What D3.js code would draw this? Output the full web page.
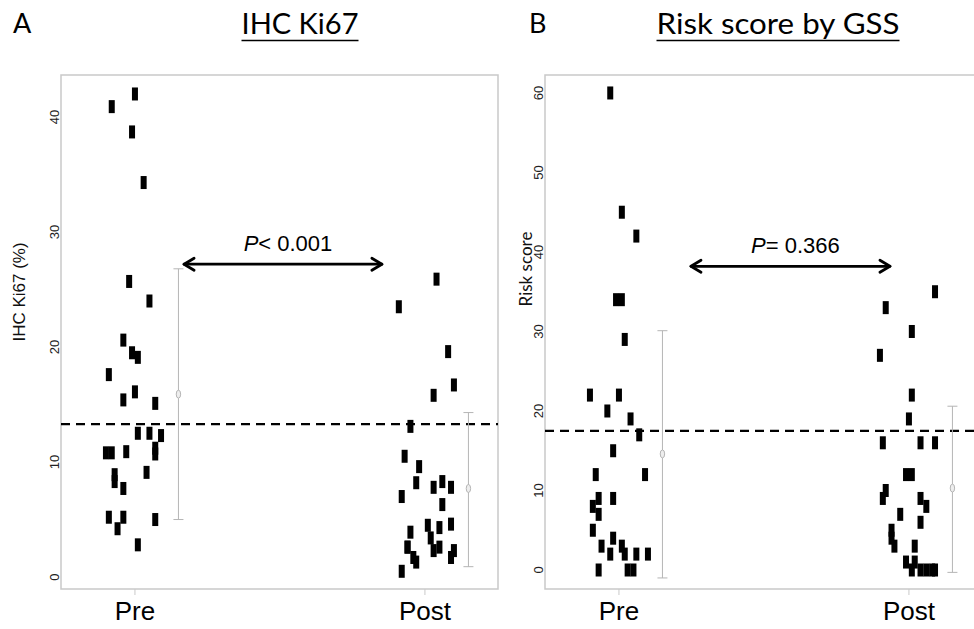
<!DOCTYPE html>
<html><head><meta charset="utf-8">
<script src="https://cdn.jsdelivr.net/npm/d3@7"></script>
<style>body{margin:0;background:#fff}</style>
</head><body>
<svg id="chart" width="974" height="629"></svg>
<script>
const categories = ["Pre", "Post"];

// Panel A: IHC Ki67 (%)
const ki67PreValues = [42.0, 40.9, 38.7, 34.3, 25.7, 24.0, 20.6, 19.5, 19.1, 17.6, 16.1, 15.4, 15.1, 12.5, 12.5, 12.3, 10.8, 10.8, 10.9, 11.2, 10.7, 9.1, 8.9, 8.3, 7.7, 5.2, 5.2, 5.0, 4.2, 2.8];
const ki67PreJitter = [0.00, -0.08, -0.01, 0.03, -0.02, 0.05, -0.04, -0.01, 0.01, -0.09, 0.00, -0.04, 0.07, 0.01, 0.05, 0.09, -0.10, -0.08, -0.03, 0.07, 0.07, 0.04, -0.07, -0.07, -0.04, -0.09, -0.04, 0.07, -0.06, 0.01];
const ki67PostValues = [25.9, 23.5, 19.6, 16.7, 15.8, 13.1, 10.5, 9.6, 8.2, 7.8, 8.3, 7.8, 7.0, 6.3, 4.5, 3.9, 4.6, 4.3, 3.4, 2.6, 2.6, 2.6, 2.3, 2.3, 1.7, 1.7, 1.3, 0.5];
const ki67PostJitter = [0.04, -0.09, 0.08, 0.10, 0.03, -0.05, -0.07, -0.02, -0.03, 0.03, 0.06, 0.09, -0.08, 0.06, 0.01, -0.05, 0.09, 0.05, 0.02, -0.06, -0.06, 0.05, 0.03, 0.10, 0.09, -0.04, -0.03, -0.08];
const ki67Mean = [15.9, 7.7];
const ki67Lower = [5.0, 0.9];
const ki67Upper = [26.8, 14.3];
const ki67Cutoff = 13.3;
const ki67Ticks = [0, 10, 20, 30, 40];
const ki67PLabel = "< 0.001";

// Panel B: Risk score by GSS
const riskPreValues = [60, 45, 42, 34, 34, 29, 22, 22, 20, 19, 17, 15, 12, 12, 9, 9, 8, 7, 5, 4, 3, 3, 2, 2, 2, 2, 0, 0, 0];
const riskPreJitter = [-0.03, 0.01, 0.06, -0.01, 0.01, 0.02, -0.10, 0.00, -0.04, 0.04, 0.07, -0.02, -0.08, 0.09, -0.07, -0.02, -0.09, -0.07, -0.09, -0.02, -0.06, 0.01, -0.03, 0.02, 0.06, 0.10, -0.07, 0.03, 0.05];
const riskPostValues = [35, 33, 30, 27, 22, 19, 16, 16, 16, 12, 12, 10, 9, 9, 8, 7, 6, 5, 4, 3, 3, 1, 1, 0, 0, 0, 0, 0];
const riskPostJitter = [0.09, -0.08, 0.01, -0.10, 0.01, 0.00, -0.09, 0.04, 0.09, -0.01, 0.01, -0.08, -0.09, 0.04, 0.06, -0.03, 0.04, -0.06, -0.06, -0.05, 0.02, -0.01, 0.02, 0.01, 0.04, 0.06, 0.08, 0.09];
const riskMean = [14.6, 10.3];
const riskLower = [-1.0, -0.3];
const riskUpper = [30.1, 20.6];
const riskCutoff = 17.5;
const riskTicks = [0, 10, 20, 30, 40, 50, 60];
const riskPLabel = "= 0.366";

const svg = d3.select("#chart");

function drawPanel(cfg) {
  const g = svg.append("g");
  const x = d3.scaleLinear().domain([-0.255, 1.252]).range([cfg.left, cfg.left + 437]);
  const y = d3.scaleLinear().domain(cfg.yDomain).range([589, 75]);

  // Box
  g.append("rect").attr("x", cfg.left).attr("y", 75)
    .attr("width", 437).attr("height", 514)
    .attr("fill", "none").attr("stroke", "#c9c9c9").attr("stroke-width", 1.5);

  // X ticks and labels
  categories.forEach((c, i) => {
    g.append("line").attr("x1", x(i)).attr("x2", x(i)).attr("y1", 589).attr("y2", 595)
      .attr("stroke", "#c9c9c9").attr("stroke-width", 1);
    g.append("text").attr("x", x(i)).attr("y", 620).attr("text-anchor", "middle")
      .attr("font-family", "Liberation Sans, Arial, sans-serif").attr("font-size", 26)
      .attr("fill", "#000").text(c);
  });

  // Y tick labels (rotated)
  cfg.ticks.forEach(t => {
    g.append("text")
      .attr("transform", `translate(${cfg.left - 2},${y(t)}) rotate(-90)`)
      .attr("text-anchor", "middle")
      .attr("font-family", "Liberation Sans, Arial, sans-serif").attr("font-size", 13)
      .attr("fill", "#222").text(t);
  });

  // Y axis title
  g.append("text")
    .attr("transform", `translate(${cfg.yTitleX},${cfg.yTitleY}) rotate(-90)`)
    .attr("text-anchor", "middle")
    .attr("font-family", cfg.yTitleFont).attr("font-size", cfg.yTitleSize)
    .attr("fill", "#111").text(cfg.yTitle);

  // Cutoff dashed line
  g.append("line").attr("x1", cfg.left).attr("x2", cfg.left + 437)
    .attr("y1", y(cfg.cutoff)).attr("y2", y(cfg.cutoff))
    .attr("stroke", "#000").attr("stroke-width", 2.2).attr("stroke-dasharray", "9,6");

  // Points
  const pts = [];
  cfg.series.forEach((s, i) => s.values.forEach((v, k) => pts.push({ i, v, j: s.jitter[k] })));
  g.selectAll("rect.pt").data(pts).enter().append("rect").attr("class", "pt")
    .attr("x", d => x(d.i + d.j) - 3).attr("y", d => y(d.v) - 6.5)
    .attr("width", 6).attr("height", 13).attr("fill", "#000");

  // Error bars
  categories.forEach((c, i) => {
    const ex = x(i + 0.15);
    g.append("line").attr("x1", ex).attr("x2", ex).attr("y1", y(cfg.lower[i])).attr("y2", y(cfg.upper[i]))
      .attr("stroke", "#b5b5b5").attr("stroke-width", 1);
    [cfg.lower[i], cfg.upper[i]].forEach(v => {
      g.append("line").attr("x1", ex - 5).attr("x2", ex + 5).attr("y1", y(v)).attr("y2", y(v))
        .attr("stroke", "#b5b5b5").attr("stroke-width", 1);
    });
    g.append("ellipse").attr("cx", ex).attr("cy", y(cfg.mean[i])).attr("rx", 2.2).attr("ry", 4)
      .attr("fill", "#eee").attr("stroke", "#b5b5b5").attr("stroke-width", 1);
  });

  // Arrow
  const ay = y(cfg.arrowY);
  const ax1 = x(cfg.arrowX[0]), ax2 = x(cfg.arrowX[1]);
  const ag = g.append("g").attr("stroke", "#000").attr("stroke-width", 2.8).attr("fill", "none")
    .attr("stroke-linecap", "round").attr("stroke-linejoin", "round");
  ag.append("line").attr("x1", ax1 + 1).attr("x2", ax2 - 1).attr("y1", ay).attr("y2", ay);
  ag.append("path").attr("d", `M${ax1 + 11},${ay - 6} L${ax1 + 1},${ay} L${ax1 + 11},${ay + 6}`);
  ag.append("path").attr("d", `M${ax2 - 11},${ay - 6} L${ax2 - 1},${ay} L${ax2 - 11},${ay + 6}`);

  const pt = g.append("text").attr("x", (ax1 + ax2) / 2 + 5).attr("y", ay - 13)
    .attr("text-anchor", "middle")
    .attr("font-family", "Liberation Sans, Arial, sans-serif").attr("font-size", 22).attr("fill", "#000");
  pt.append("tspan").attr("font-style", "italic").text("P");
  pt.append("tspan").text(cfg.pLabel);

  // Panel letter and title
  svg.append("text").attr("x", cfg.letterX).attr("y", 33)
    .attr("font-family", "Lato, Open Sans, sans-serif").attr("font-size", 27).attr("fill", "#000").text(cfg.letter);
  const tt = svg.append("text").attr("x", cfg.titleX).attr("y", 34).attr("text-anchor", "middle")
    .attr("font-family", "Lato, Open Sans, sans-serif").attr("font-size", 29).attr("fill", "#000")
    .attr("textLength", cfg.titleW).attr("lengthAdjust", "spacingAndGlyphs")
    .text(cfg.title);
  svg.append("line").attr("x1", cfg.titleX - cfg.titleW / 2).attr("x2", cfg.titleX + cfg.titleW / 2)
    .attr("y1", 40.5).attr("y2", 40.5).attr("stroke", "#000").attr("stroke-width", 1.5);
}

drawPanel({
  left: 61, yDomain: [-1.04, 43.65], ticks: ki67Ticks,
  yTitle: "IHC Ki67 (%)", yTitleX: 25, yTitleY: 292, yTitleFont: "Liberation Sans, Arial, sans-serif", yTitleSize: 17,
  cutoff: ki67Cutoff,
  series: [{ values: ki67PreValues, jitter: ki67PreJitter }, { values: ki67PostValues, jitter: ki67PostJitter }],
  mean: ki67Mean, lower: ki67Lower, upper: ki67Upper,
  arrowY: 27.2, arrowX: [0.166, 0.855], pLabel: ki67PLabel,
  letter: "A", letterX: 13, title: "IHC Ki67", titleX: 300, titleW: 117
});

drawPanel({
  left: 545, yDomain: [-2.39, 62.26], ticks: riskTicks,
  yTitle: "Risk score", yTitleX: 532, yTitleY: 269, yTitleFont: "Lato, Open Sans, sans-serif", yTitleSize: 17,
  cutoff: riskCutoff,
  series: [{ values: riskPreValues, jitter: riskPreJitter }, { values: riskPostValues, jitter: riskPostJitter }],
  mean: riskMean, lower: riskLower, upper: riskUpper,
  arrowY: 38.2, arrowX: [0.245, 0.938], pLabel: riskPLabel,
  letter: "B", letterX: 529, title: "Risk score by GSS", titleX: 778, titleW: 243
});
</script>
</body></html>
